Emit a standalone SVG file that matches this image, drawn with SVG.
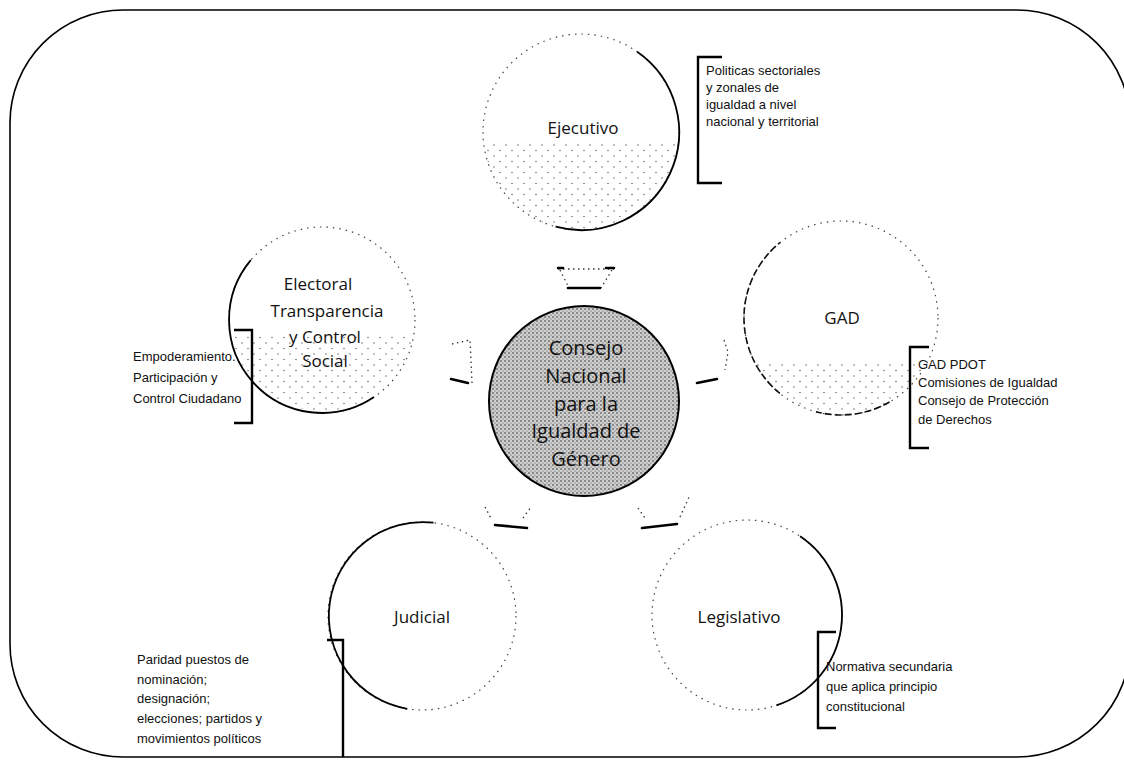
<svg xmlns="http://www.w3.org/2000/svg" width="1124" height="763" viewBox="0 0 1124 763">
<defs>
<pattern id="sparse" width="12" height="11" patternUnits="userSpaceOnUse"><circle cx="2" cy="2" r="0.7" fill="#555"/><circle cx="8" cy="7.5" r="0.7" fill="#555"/></pattern>
<pattern id="dense" width="4" height="4" patternUnits="userSpaceOnUse"><rect width="4" height="4" fill="#cfcfcf"/><circle cx="1" cy="1" r="0.8" fill="#333"/><circle cx="3" cy="3" r="0.6" fill="#555"/></pattern>
<style>
.ring{fill:none;stroke:#444;stroke-width:1.2;stroke-dasharray:1.5 5}
.solid{fill:none;stroke:#000;stroke-width:1.8}
.dash{fill:none;stroke:#111;stroke-width:1.6;stroke-dasharray:7 3}
.stip{fill:url(#sparse);stroke:none}
.lbl{font-family:"Open Sans",sans-serif;font-size:17px;fill:#111;text-anchor:middle}
.ctr{font-family:"Open Sans",sans-serif;font-size:20px;fill:#111;text-anchor:middle}
.note{font-family:"Liberation Sans",Arial,sans-serif;font-size:13px;fill:#111}
.br{fill:none;stroke:#000;stroke-width:2.4}
.abase{fill:none;stroke:#000;stroke-width:2.6;stroke-linecap:round}
.aside{fill:none;stroke:#333;stroke-width:1.3;stroke-dasharray:1.5 3.5}
</style>
</defs>
<rect x="10" y="10" width="1120" height="747" rx="113" ry="113" fill="none" stroke="#000" stroke-width="1.6"/>

<g id="connectors">
<path class="aside" d="M558,269 L614,269 M560,270 L569,288 M612,270 L601,288"/>
<path class="abase" d="M568,288 L600,288"/>
<path class="abase" d="M558,268 L563,268 M606,268 L614,268"/>
<path class="aside" d="M452,344 L470,340 L472,383"/>
<path class="abase" d="M451,379 L468,383"/>
<path class="aside" d="M724,340 L728,352 L725,370"/>
<path class="abase" d="M697,383 L717,379"/>
<path class="aside" d="M485,507 L492,520 M523,518 L531,507"/>
<path class="abase" d="M495,525 L527,528"/>
<path class="aside" d="M638,508 L645,518 M680,517 L689,497"/>
<path class="abase" d="M642,528 L677,524"/>
</g>

<g id="ejecutivo">
<path class="stip" d="M483.3,140 A98 98 0 0 0 678.7,140 Z"/>
<circle class="ring" cx="581" cy="132" r="98"/>
<path class="solid" d="M637.2,51.7 A98 98 0 0 1 555.6,226.7"/>
<text class="lbl" x="583" y="134">Ejecutivo</text>
</g>

<g id="electoral">
<path class="stip" d="M230.6,335 A93 93 0 0 0 413.4,335 Z"/>
<circle class="ring" cx="322" cy="320" r="93"/>
<path class="solid" d="M374,397.1 A93 93 0 0 1 250.8,260.2"/>
<text class="lbl" x="318" y="290">Electoral</text>
<text class="lbl" x="327" y="317">Transparencia</text>
<text class="lbl" x="325" y="343">y Control</text>
<text class="lbl" x="325" y="367">Social</text>
</g>

<g id="consejo">
<circle cx="584" cy="401" r="95" fill="url(#dense)" stroke="#000" stroke-width="2"/>
<text class="ctr" x="586" y="355">Consejo</text>
<text class="ctr" x="586" y="383">Nacional</text>
<text class="ctr" x="586" y="411">para la</text>
<text class="ctr" x="586" y="438">Igualdad de</text>
<text class="ctr" x="586" y="466">Género</text>
</g>

<g id="gad">
<path class="stip" d="M753.8,360 A97 97 0 0 0 928.2,360 Z"/>
<circle class="ring" cx="841" cy="318" r="97"/>
<path class="dash" d="M779.9,393.4 A97 97 0 0 1 780,242.6"/>
<path class="dash" d="M889.5,402 A97 97 0 0 1 816,411.7"/>
<text class="lbl" x="842" y="324">GAD</text>
</g>

<g id="judicial">
<circle class="ring" cx="422" cy="616" r="94"/>
<path class="solid" d="M407.3,708.8 A94 94 0 0 1 433.5,522.7"/>
<text class="lbl" x="422" y="623">Judicial</text>
</g>

<g id="legislativo">
<circle class="ring" cx="747" cy="615" r="95"/>
<path class="solid" d="M800.1,536.2 A95 95 0 0 1 776.4,705.3"/>
<text class="lbl" x="739" y="623">Legislativo</text>
</g>

<g id="nota-ejecutivo">
<path class="br" d="M722,57 L698,57 L698,183 L722,183"/>
<text class="note" x="706" y="75">Politicas sectoriales</text>
<text class="note" x="706" y="92">y zonales de</text>
<text class="note" x="706" y="109">igualdad a nivel</text>
<text class="note" x="706" y="126">nacional y territorial</text>
</g>

<g id="nota-electoral">
<path class="br" d="M234,330 L252,330 L252,423 L234,423"/>
<text class="note" x="133" y="361">Empoderamiento.</text>
<text class="note" x="133" y="382">Participación y</text>
<text class="note" x="133" y="403">Control Ciudadano</text>
</g>

<g id="nota-gad">
<path class="br" d="M929,347 L910,347 L910,448 L929,448"/>
<text class="note" x="918" y="369">GAD  PDOT</text>
<text class="note" x="918" y="387">Comisiones de Igualdad</text>
<text class="note" x="918" y="405">Consejo de Protección</text>
<text class="note" x="918" y="424">de Derechos</text>
</g>

<g id="nota-judicial">
<path class="br" d="M327,640 L343,640 L343,757"/>
<text class="note" x="137" y="664">Paridad puestos de</text>
<text class="note" x="137" y="684">nominación;</text>
<text class="note" x="137" y="703">designación;</text>
<text class="note" x="137" y="723">elecciones; partidos y</text>
<text class="note" x="137" y="743">movimientos políticos</text>
</g>

<g id="nota-legislativo">
<path class="br" d="M836,632 L818,632 L818,728 L836,728"/>
<text class="note" x="826" y="671">Normativa secundaria</text>
<text class="note" x="826" y="691">que aplica principio</text>
<text class="note" x="826" y="711">constitucional</text>
</g>
</svg>
